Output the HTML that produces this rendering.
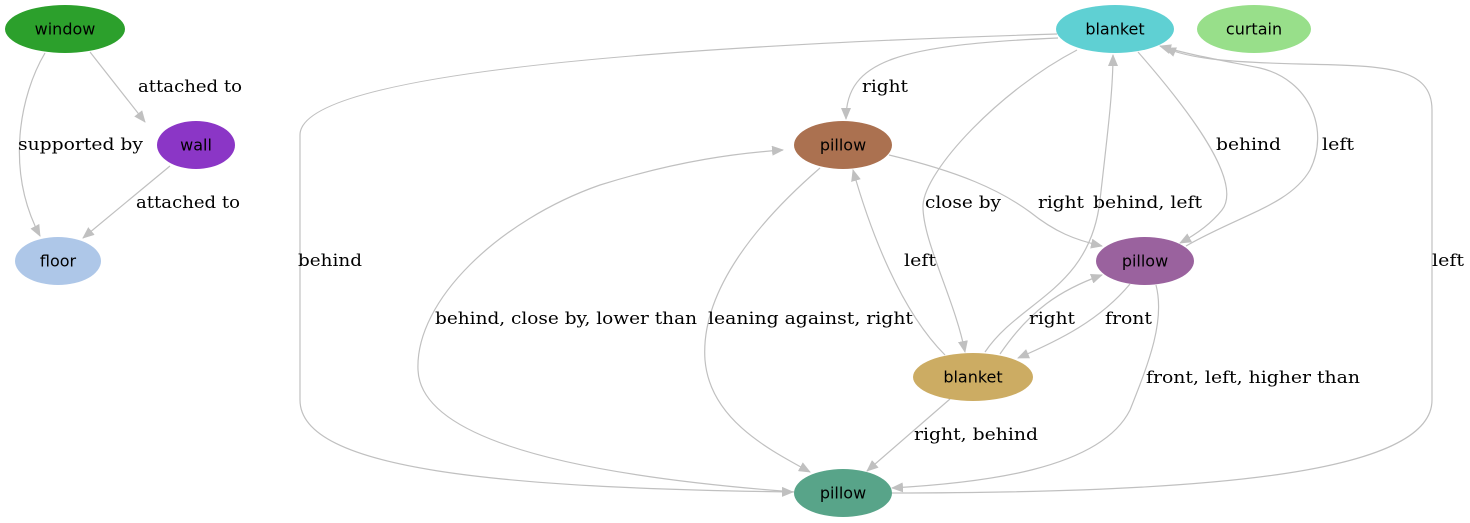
<!DOCTYPE html>
<html><head><meta charset="utf-8"><style>
html,body{margin:0;padding:0;background:#fff;}
svg{display:block;}
.e{fill:none;stroke:#c0c0c0;stroke-width:1.2;}
.l{font-family:"DejaVu Serif","Liberation Serif",serif;font-size:17px;fill:#000;}
.n{font-family:"DejaVu Sans","Liberation Sans",sans-serif;font-size:16px;fill:#000;text-anchor:middle;dominant-baseline:central;}
</style></head><body>
<svg width="1470" height="523" viewBox="0 0 1470 523">
<defs><marker id="a" markerWidth="12" markerHeight="10" refX="11" refY="5" orient="auto" markerUnits="userSpaceOnUse"><path d="M0,0 L12,5 L0,10 z" fill="#c0c0c0"/></marker></defs>
<g>
<path class="e" marker-end="url(#a)" d="M90,52 L145,122"/>
<path class="e" marker-end="url(#a)" d="M45,53 C20,95 5,170 40,236"/>
<path class="e" marker-end="url(#a)" d="M170,166 L83,238"/>
<path class="e" marker-end="url(#a)" d="M1057,34 C700,45 300,70 300,135 L300,400 C300,470 500,488 793,492"/>
<path class="e" marker-end="url(#a)" d="M1058,38 C900,45 846,60 846,119"/>
<path class="e" marker-end="url(#a)" d="M1077,50 C1000,90 925,170 923,205 C922,240 955,300 965,352"/>
<path class="e" marker-end="url(#a)" d="M1138,52 C1180,100 1245,180 1222,210 C1210,225 1195,235 1180,243"/>
<path class="e" marker-end="url(#a)" d="M1186,246 C1240,215 1290,205 1310,170 C1330,130 1310,80 1260,68 C1220,60 1190,55 1160,46"/>
<path class="e" marker-end="url(#a)" d="M892,493 C1200,493 1432,475 1432,400 L1432,110 C1432,65 1380,66 1300,64 C1220,62 1190,58 1165,48"/>
<path class="e" marker-end="url(#a)" d="M889,155 C960,172 1000,190 1030,212 C1055,232 1075,240 1102,246"/>
<path class="e" marker-end="url(#a)" d="M985,352 C1020,300 1090,290 1100,200 C1108,130 1113,90 1113,55"/>
<path class="e" marker-end="url(#a)" d="M945,355 C900,310 870,230 853,170"/>
<path class="e" marker-end="url(#a)" d="M820,168 C760,220 700,290 705,360 C710,420 770,450 810,472"/>
<path class="e" marker-end="url(#a)" d="M795,492 C500,470 420,420 418,370 C415,300 500,220 600,185 C680,160 740,153 783,150"/>
<path class="e" marker-end="url(#a)" d="M1000,354 C1030,310 1060,290 1102,275"/>
<path class="e" marker-end="url(#a)" d="M1130,284 C1100,320 1060,340 1018,358"/>
<path class="e" marker-end="url(#a)" d="M1156,285 C1165,320 1150,360 1130,410 C1100,470 980,483 892,488"/>
<path class="e" marker-end="url(#a)" d="M950,399 L867,471"/>
</g>
<g>
<text class="l" x="138" y="92" textLength="104" lengthAdjust="spacingAndGlyphs">attached to</text>
<text class="l" x="18" y="150" textLength="125" lengthAdjust="spacingAndGlyphs">supported by</text>
<text class="l" x="136" y="208" textLength="104" lengthAdjust="spacingAndGlyphs">attached to</text>
<text class="l" x="298" y="266" textLength="64" lengthAdjust="spacingAndGlyphs">behind</text>
<text class="l" x="862" y="92" textLength="46" lengthAdjust="spacingAndGlyphs">right</text>
<text class="l" x="1216" y="150" textLength="65" lengthAdjust="spacingAndGlyphs">behind</text>
<text class="l" x="1322" y="150" textLength="32" lengthAdjust="spacingAndGlyphs">left</text>
<text class="l" x="925" y="208" textLength="76" lengthAdjust="spacingAndGlyphs">close by</text>
<text class="l" x="1038" y="208" textLength="46" lengthAdjust="spacingAndGlyphs">right</text>
<text class="l" x="1093" y="208" textLength="109" lengthAdjust="spacingAndGlyphs">behind, left</text>
<text class="l" x="904" y="266" textLength="32" lengthAdjust="spacingAndGlyphs">left</text>
<text class="l" x="1432" y="266" textLength="32" lengthAdjust="spacingAndGlyphs">left</text>
<text class="l" x="435" y="324" textLength="262" lengthAdjust="spacingAndGlyphs">behind, close by, lower than</text>
<text class="l" x="708" y="324" textLength="205" lengthAdjust="spacingAndGlyphs">leaning against, right</text>
<text class="l" x="1029" y="324" textLength="46" lengthAdjust="spacingAndGlyphs">right</text>
<text class="l" x="1105" y="324" textLength="47" lengthAdjust="spacingAndGlyphs">front</text>
<text class="l" x="1146" y="383" textLength="214" lengthAdjust="spacingAndGlyphs">front, left, higher than</text>
<text class="l" x="914" y="440" textLength="124" lengthAdjust="spacingAndGlyphs">right, behind</text>
</g>
<g>
<g><ellipse cx="65" cy="29" rx="60" ry="24" fill="#2ca02c"/><text class="n" x="65" y="29">window</text></g>
<g><ellipse cx="196" cy="145" rx="39" ry="24" fill="#8b36c6"/><text class="n" x="196" y="145">wall</text></g>
<g><ellipse cx="58" cy="261" rx="43" ry="24" fill="#aec7e8"/><text class="n" x="58" y="261">floor</text></g>
<g><ellipse cx="1115" cy="29" rx="59" ry="24" fill="#5fd0d3"/><text class="n" x="1115" y="29">blanket</text></g>
<g><ellipse cx="1254" cy="29" rx="57" ry="24" fill="#98df8a"/><text class="n" x="1254" y="29">curtain</text></g>
<g><ellipse cx="843" cy="145" rx="49" ry="24" fill="#ab7150"/><text class="n" x="843" y="145">pillow</text></g>
<g><ellipse cx="1145" cy="261" rx="49" ry="24" fill="#9a629e"/><text class="n" x="1145" y="261">pillow</text></g>
<g><ellipse cx="973" cy="377" rx="60" ry="24" fill="#ccac63"/><text class="n" x="973" y="377">blanket</text></g>
<g><ellipse cx="843" cy="493" rx="49" ry="24" fill="#58a489"/><text class="n" x="843" y="493">pillow</text></g>
</g>
</svg>
</body></html>
